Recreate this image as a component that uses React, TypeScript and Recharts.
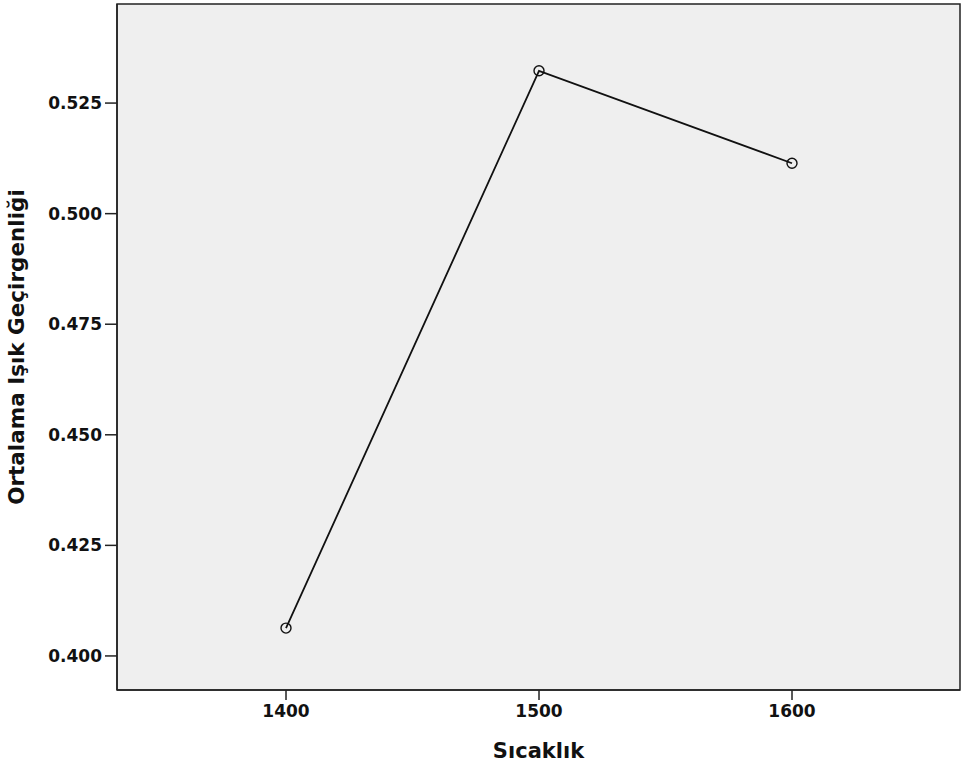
import React from 'react';
import { LineChart, Line, XAxis, YAxis, ReferenceArea } from 'recharts';

const temperatures = [1400, 1500, 1600];
const meanTransmittance = [0.4063, 0.5323, 0.5114];
const yTicks = [0.4, 0.425, 0.45, 0.475, 0.5, 0.525];
const xTicks = [1400, 1500, 1600];

const data = temperatures.map((t, i) => ({ t, v: meanTransmittance[i] }));

const X_DOMAIN: [number, number] = [1333.2, 1666.4];
const Y_DOMAIN: [number, number] = [0.3923, 0.5474];

const font = 'DejaVu Sans, Verdana, sans-serif';
const tickStyle = { fontFamily: font, fontWeight: 700, fontSize: 17, fill: '#111' };

const App: React.FC = () => {
  return (
    <div style={{ position: 'absolute', left: 0, top: 0 }}>
      <LineChart
        width={961}
        height={767}
        data={data}
        margin={{ top: 4, right: 1, left: 0, bottom: 0 }}
      >
        <ReferenceArea
          x1={X_DOMAIN[0]}
          x2={X_DOMAIN[1]}
          y1={Y_DOMAIN[0]}
          y2={Y_DOMAIN[1]}
          fill="#efefef"
          fillOpacity={1}
          stroke="#222"
          strokeWidth={1.5}
        />
        <XAxis
          dataKey="t"
          type="number"
          domain={X_DOMAIN}
          ticks={xTicks}
          allowDataOverflow
          height={77}
          tickSize={10}
          tickMargin={5}
          axisLine={{ stroke: '#222', strokeWidth: 1.5 }}
          tickLine={{ stroke: '#222', strokeWidth: 1.5 }}
          tick={tickStyle}
          label={{
            value: 'Sıcaklık',
            position: 'insideBottom',
            offset: 9,
            style: { fontFamily: font, fontWeight: 700, fontSize: 21, fill: '#111' },
          }}
        />
        <YAxis
          type="number"
          domain={Y_DOMAIN}
          ticks={yTicks}
          allowDataOverflow
          width={117}
          tickSize={12}
          tickMargin={3}
          tickFormatter={(v: number) => v.toFixed(3)}
          axisLine={{ stroke: '#222', strokeWidth: 1.5 }}
          tickLine={{ stroke: '#222', strokeWidth: 1.5 }}
          tick={tickStyle}
          label={{
            value: 'Ortalama Işık Geçirgenliği',
            angle: -90,
            position: 'insideLeft',
            offset: 16,
            style: { textAnchor: 'middle', fontFamily: font, fontWeight: 700, fontSize: 21.5, fill: '#111' },
          }}
        />
        <Line
          type="linear"
          dataKey="v"
          stroke="#111"
          strokeWidth={1.8}
          dot={{ r: 5, stroke: '#111', strokeWidth: 1.4, fill: 'none' }}
          activeDot={false}
          isAnimationActive={false}
        />
      </LineChart>
    </div>
  );
};

export default App;
